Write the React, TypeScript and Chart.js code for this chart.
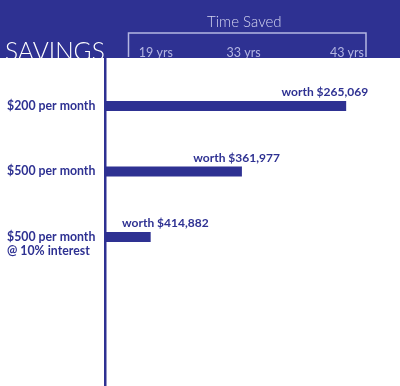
import React, { useEffect, useRef } from "react";
import { Chart, registerables } from "chart.js";

Chart.register(...registerables);

// ---- data ----
const categoryLabels: string[][] = [
  ["$200 per month"],
  ["$500 per month"],
  ["", "$500 per month", "@ 10% interest"],
];
const barLengths: number[] = [86.6, 49.0, 16.1];
const worthLabels: string[] = ["worth $265,069", "worth $361,977", "worth $414,882"];
const timeSavedTicks: number[] = [18.1, 49.7, 87.0];
const timeSavedLabels: string[] = ["19 yrs", "33 yrs", "43 yrs"];
const axisTitle = "Time Saved";
const chartTitle = "SAVINGS";

// ---- style ----
const BLUE = "#2e3192";
const LAVENDER = "#b4b6e2";
const LIGHT = "#d4d5f0";
const HEADER_H = 58;
const worthDx = [-21, -5, 15];

export default function App() {
  const ref = useRef<HTMLCanvasElement | null>(null);

  useEffect(() => {
    document.body.style.margin = "0";
    const canvas = ref.current!;
    const decor = {
      id: "decor",
      beforeDraw(chart: any) {
        const ctx = chart.ctx;
        ctx.save();
        ctx.fillStyle = "#ffffff";
        ctx.fillRect(0, 0, chart.width, chart.height);
        ctx.fillStyle = BLUE;
        ctx.fillRect(0, 0, chart.width, HEADER_H);
        // bracket
        ctx.strokeStyle = LAVENDER;
        ctx.lineWidth = 1.5;
        ctx.beginPath();
        ctx.moveTo(128.5, 57);
        ctx.lineTo(128.5, 33);
        ctx.lineTo(366, 33);
        ctx.lineTo(366, 57);
        ctx.stroke();
        // big title
        ctx.fillStyle = "#ffffff";
        ctx.font = "300 24.5px Lato";
        ctx.textAlign = "left";
        ctx.textBaseline = "alphabetic";
        ctx.fillText(chartTitle, 5, 59.5);
        ctx.restore();
      },
      afterDatasetsDraw(chart: any) {
        const ctx = chart.ctx;
        const meta = chart.getDatasetMeta(0);
        ctx.save();
        ctx.fillStyle = BLUE;
        ctx.font = "bold 12px Lato";
        ctx.textAlign = "center";
        ctx.textBaseline = "middle";
        meta.data.forEach((el: any, i: number) => {
          ctx.fillText(worthLabels[i], el.x + worthDx[i], el.y - 13.5);
        });
        ctx.restore();
      },
      afterDraw(chart: any) {
        const ctx = chart.ctx;
        const left = chart.chartArea.left;
        ctx.save();
        ctx.fillStyle = "#ffffff";
        ctx.fillRect(0, HEADER_H, left - 2, 6);
        ctx.fillRect(left + 2, HEADER_H, chart.width - left, 6);
        ctx.restore();
      },
    };

    const chart = new Chart(canvas, {
      type: "bar",
      data: {
        datasets: [
          {
            data: barLengths.map((v, i) => ({ x: v, y: i })),
            backgroundColor: BLUE,
            barThickness: 9.5,
          },
        ],
      },
      options: {
        indexAxis: "y",
        animation: false,
        responsive: false,
        layout: { padding: { left: 7, right: 17, top: 0, bottom: 0 } },
        plugins: { legend: { display: false }, tooltip: { enabled: false } },
        scales: {
          x: {
            type: "linear",
            position: "top",
            min: 0,
            max: 100,
            offset: false,
            grid: { display: false, drawTicks: false },
            border: { display: false },
            afterBuildTicks: (scale: any) => {
              scale.ticks = timeSavedTicks.map((v) => ({ value: v }));
            },
            afterFit: (scale: any) => {
              scale.height = HEADER_H;
              scale.paddingLeft = 0;
              scale.paddingRight = 0;
            },
            ticks: {
              autoSkip: false,
              maxRotation: 0,
              padding: -2,
              color: LAVENDER,
              font: { family: "Lato", size: 12.5, weight: "normal" },
              callback: (v: any) => {
                const i = timeSavedTicks.indexOf(v);
                return i >= 0 ? timeSavedLabels[i] : "";
              },
            },
            title: {
              display: true,
              text: axisTitle,
              color: LIGHT,
              font: { family: "Lato", size: 15, weight: "300" },
              padding: { top: 13, bottom: 0 },
            },
          },
          y: {
            type: "linear",
            reverse: true,
            offset: false,
            min: -0.733,
            max: 4.275,
            grid: { display: true, color: "transparent", drawTicks: false, offset: false },
            border: { display: true, color: BLUE, width: 2.5 },
            afterBuildTicks: (scale: any) => {
              scale.ticks = categoryLabels.map((_, i) => ({ value: i }));
            },
            afterFit: (scale: any) => {
              scale.width = 98.7;
              scale.paddingTop = 0;
              scale.paddingBottom = 0;
            },
            ticks: {
              autoSkip: false,
              crossAlign: "far",
              padding: 0,
              color: BLUE,
              font: { family: "Lato", size: 12.3, weight: "bold", lineHeight: 1.15 },
              callback: (v: any) => categoryLabels[v] ?? "",
            },
          },
        },
      },
      plugins: [decor],
    } as any);
    return () => chart.destroy();
  }, []);

  return <canvas ref={ref} width={400} height={386} style={{ display: "block" }} />;
}
